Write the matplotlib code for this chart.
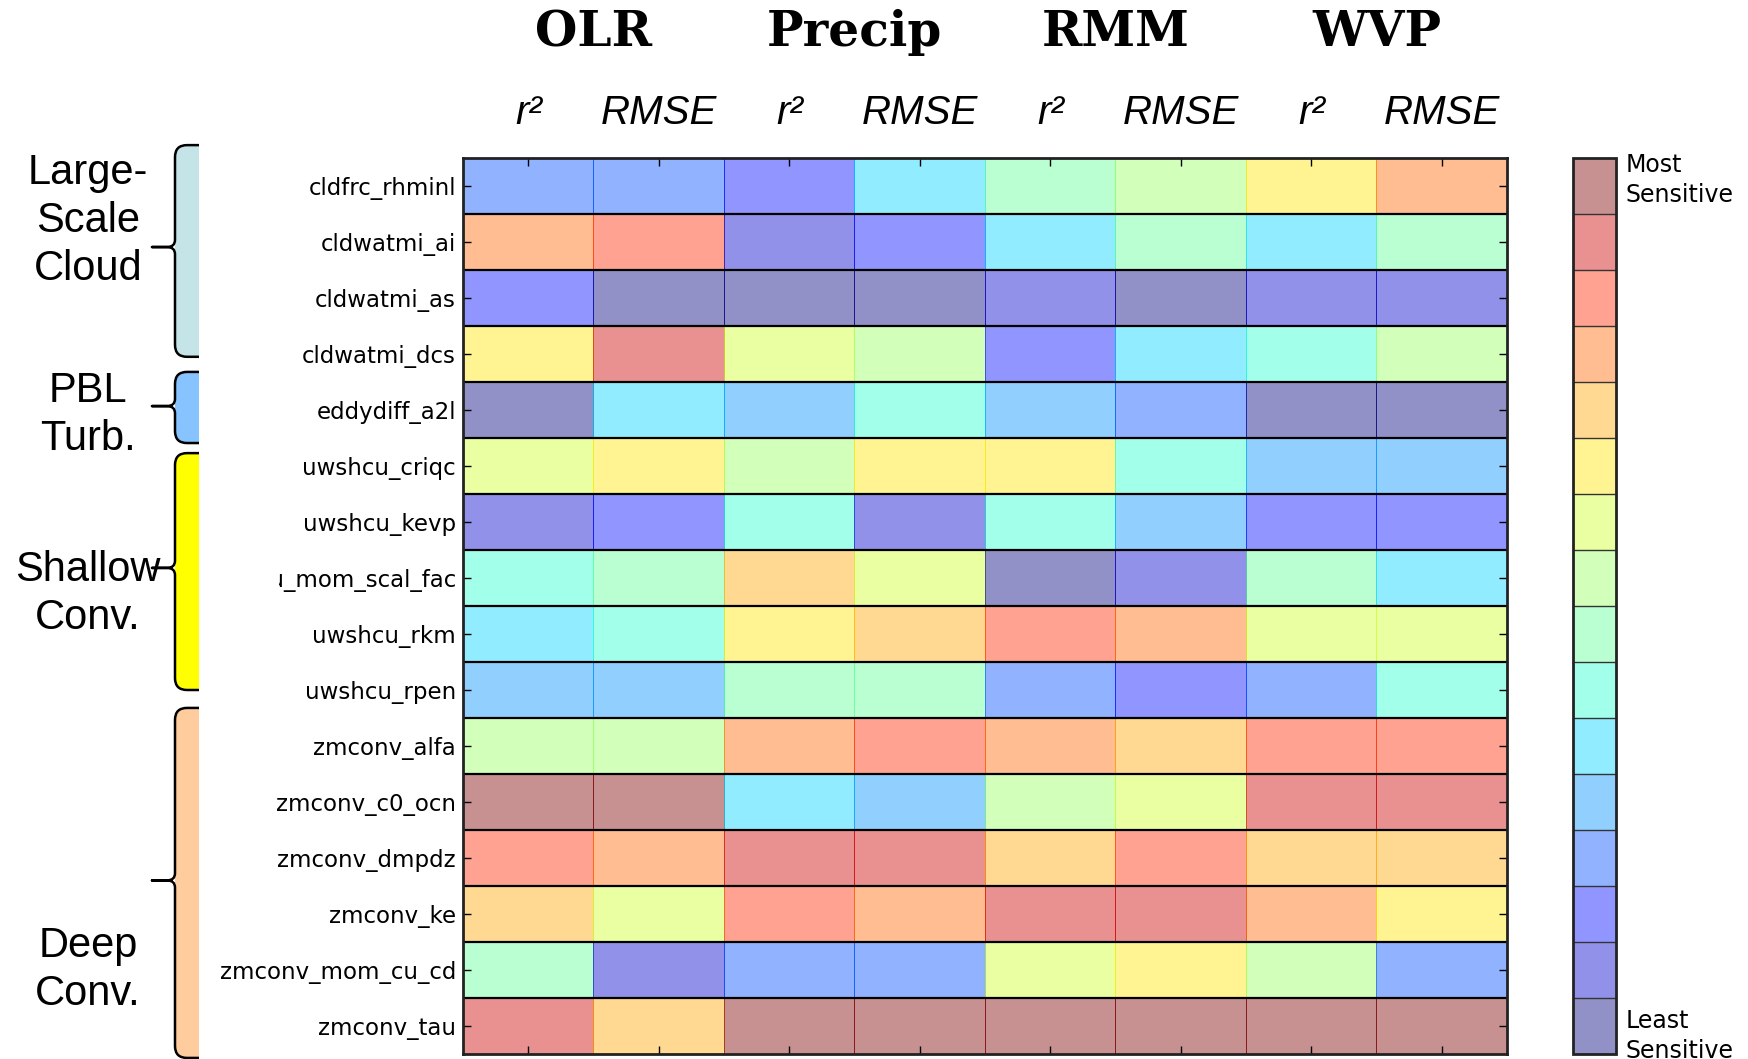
import numpy as np
import matplotlib.pyplot as plt
from matplotlib.path import Path
from matplotlib.patches import PathPatch, Rectangle
from matplotlib.transforms import blended_transform_factory

params = ['cldfrc_rhminl', 'cldwatmi_ai', 'cldwatmi_as', 'cldwatmi_dcs',
          'eddydiff_a2l', 'uwshcu_criqc', 'uwshcu_kevp', 'uwshcu_mom_scal_fac',
          'uwshcu_rkm', 'uwshcu_rpen', 'zmconv_alfa', 'zmconv_c0_ocn',
          'zmconv_dmpdz', 'zmconv_ke', 'zmconv_mom_cu_cd', 'zmconv_tau']
fields = ['OLR', 'Precip', 'RMM', 'WVP']
metrics = ['r\u00b2', 'RMSE']

# sensitivity rank of each parameter (16 = most sensitive)
olr_r2 = [4, 13, 3, 11, 1, 10, 2, 7, 6, 5, 9, 16, 14, 12, 8, 15]
olr_rmse = [4, 14, 1, 15, 6, 11, 3, 8, 7, 5, 9, 16, 13, 10, 2, 12]
precip_r2 = [3, 2, 1, 10, 5, 9, 7, 12, 11, 8, 13, 6, 15, 14, 4, 16]
precip_rmse = [6, 3, 1, 9, 7, 11, 2, 10, 12, 8, 14, 5, 15, 13, 4, 16]
rmm_r2 = [8, 6, 2, 3, 5, 11, 7, 1, 14, 4, 13, 9, 12, 15, 10, 16]
rmm_rmse = [9, 8, 1, 6, 4, 7, 5, 2, 13, 3, 12, 10, 14, 15, 11, 16]
wvp_r2 = [11, 6, 2, 7, 1, 5, 3, 8, 10, 4, 14, 15, 12, 13, 9, 16]
wvp_rmse = [13, 8, 2, 9, 1, 5, 3, 6, 10, 7, 14, 15, 12, 11, 4, 16]

groups = ['Large-\nScale\nCloud', 'PBL\nTurb.', 'Shallow\nConv.', 'Deep\nConv.']
group_colors = ['#c5e4e7', '#87c3ff', '#ffff00', '#ffcc9d']

# brace extents in row units: (top, tip, bottom), label centre row,
# and right edge (px) of the white box behind each brace
brace_rows = [(-0.23, 1.59, 3.55), (3.82, 4.43, 5.09),
              (5.27, 7.32, 9.5), (9.82, 12.9, 16.07)]
label_rows = [1.125, 4.59, 7.78, 14.5]
box_right = [279, 279, 279, 199]

data = np.array([olr_r2, olr_rmse, precip_r2, precip_rmse,
                 rmm_r2, rmm_rmse, wvp_r2, wvp_rmse]).T
nrow, ncol = data.shape

W, H = 1749, 1059
fig = plt.figure(figsize=(W / 100, H / 100), dpi=100)

left, right, top, bottom = 463, 1507, 158, 1054
ax = fig.add_axes([left / W, 1 - bottom / H, (right - left) / W, (bottom - top) / H])

cmap = plt.get_cmap('jet', 16)
mesh = ax.pcolormesh(data, cmap=cmap, vmin=0.5, vmax=16.5, alpha=0.43,
                     edgecolors='face', linewidth=0.4)
ax.set_xlim(0, ncol)
ax.set_ylim(nrow, 0)
for i in range(1, nrow):
    ax.axhline(i, color='k', lw=1.6)
for s in ax.spines.values():
    s.set_linewidth(2)
    s.set_color('#222222')

ax.set_xticks(np.arange(ncol) + 0.5)
ax.set_yticks(np.arange(nrow) + 0.5)
ax.set_yticklabels(params, fontsize=16.5)
ax.tick_params(direction='in', top=True, right=True, labelbottom=False,
               length=6, width=1, pad=5)

# field names and metric names above the columns
trans = blended_transform_factory(ax.transData, fig.transFigure)
for k, name in enumerate(fields):
    ax.text(2 * k + 1, 1 - 33 / H, name, transform=trans, ha='center', va='center',
            fontsize=35, fontweight='bold', family='DejaVu Serif')
    for j, m in enumerate(metrics):
        ax.text(2 * k + j + 0.5, 1 - 113 / H, m, transform=trans, ha='center',
                va='center', fontsize=29, style='italic',
                family=['Liberation Sans Narrow', 'Liberation Sans'])

# colorbar
cax = fig.add_axes([1573 / W, 1 - bottom / H, 43 / W, (bottom - top) / H])
cb = fig.colorbar(mesh, cax=cax, boundaries=np.arange(0.5, 17), drawedges=True)
cb.set_ticks([])
cb.dividers.set_linewidth(1)
cb.dividers.set_color('#333333')
cb.outline.set_linewidth(2)
cb.outline.set_edgecolor('#222222')
fig.text(1626 / W, 1 - 153 / H, 'Most\nSensitive', fontsize=17, va='top',
         linespacing=1.3)
fig.text(1626 / W, 1 - 1009 / H, 'Least\nSensitive', fontsize=17, va='top',
         linespacing=1.3)

# braces grouping the parameters
bax = fig.add_axes([0, 0, 279 / W, 1])
bax.patch.set_visible(False)
rows_per_frac = nrow / ((bottom - top) / H)
bax.set_ylim(nrow + (1 - bottom / H) * rows_per_frac, -(top / H) * rows_per_frac)
bax.set_xlim(0, 279)
bax.set_xticks([])
bax.set_yticks([])
for s in bax.spines.values():
    s.set_visible(False)

x_line, x_tip, x_edge = 175, 152, 199
ry = 12 / 56.0
for (t, m, b), lab, ly, col, xr in zip(brace_rows, groups, label_rows,
                                       group_colors, box_right):
    bax.add_patch(Rectangle((0, t - 0.1), xr, b - t + 0.2, facecolor='white',
                            edgecolor='none'))
    fill = Path([(x_edge, t), (x_line + 12, t), (x_line, t), (x_line, t + ry),
                 (x_line, b - ry), (x_line, b), (x_line + 12, b), (x_edge, b),
                 (x_edge, t)],
                [Path.MOVETO, Path.LINETO, Path.CURVE3, Path.CURVE3,
                 Path.LINETO, Path.CURVE3, Path.CURVE3, Path.LINETO,
                 Path.CLOSEPOLY])
    bax.add_patch(PathPatch(fill, facecolor=col, edgecolor='none'))
    outline = Path([(x_edge, t), (x_line + 12, t), (x_line, t), (x_line, t + ry),
                    (x_line, m - 0.6 * ry), (x_line, m), (x_line - 8, m),
                    (x_tip, m), (x_line - 8, m), (x_line, m), (x_line, m + 0.6 * ry),
                    (x_line, b - ry), (x_line, b), (x_line + 12, b), (x_edge, b)],
                   [Path.MOVETO, Path.LINETO, Path.CURVE3, Path.CURVE3,
                    Path.LINETO, Path.CURVE3, Path.CURVE3,
                    Path.LINETO, Path.LINETO, Path.CURVE3, Path.CURVE3,
                    Path.LINETO, Path.CURVE3, Path.CURVE3, Path.LINETO])
    bax.add_patch(PathPatch(outline, facecolor='none', edgecolor='k', lw=1.8,
                            capstyle='butt', joinstyle='round'))
    bax.text(88, ly, lab, ha='center', va='center', fontsize=30,
             family='Liberation Sans', multialignment='center', linespacing=1.25)

fig.savefig('out.png', dpi=100)
